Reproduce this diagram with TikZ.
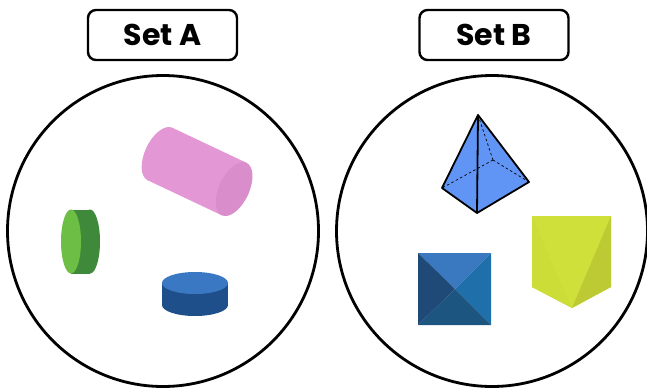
\documentclass[tikz,border=0pt]{standalone}
\usepackage{fontspec}
\setmainfont{Poppins}
\definecolor{pinkbody}{HTML}{E397D5}
\definecolor{pinkface}{HTML}{D98DCB}
\definecolor{greenlight}{HTML}{6DBE45}
\definecolor{greendark}{HTML}{3F8A3A}
\definecolor{bluetop}{HTML}{3B78C4}
\definecolor{blueside}{HTML}{1F4F8A}
\definecolor{pyrblue}{HTML}{6195F5}
\definecolor{sqtop}{HTML}{3A78BF}
\definecolor{sqright}{HTML}{1F6FAB}
\definecolor{sqbottom}{HTML}{1B5580}
\definecolor{sqleft}{HTML}{1F4A78}
\definecolor{prmain}{HTML}{CFE03A}
\definecolor{prleft}{HTML}{CCDD38}
\definecolor{prright}{HTML}{BDCA33}
\tikzset{
  labelbox/.style={draw=black, line width=2.4pt, rounded corners=8pt, minimum width=149pt, minimum height=50pt, inner sep=0pt, font=\fontsize{30}{33}\selectfont\bfseries},
  setcircle/.style={draw=black, line width=2.8pt, circle, minimum size=311pt, inner sep=0pt},
  pyredge/.style={draw=black, line width=1.8pt, line join=round},
  hiddenedge/.style={black, line width=0.7pt, dash pattern=on 2.5pt off 2.5pt}
}
\begin{document}
\begin{tikzpicture}[x=1pt, y=-1pt]
\useasboundingbox (0,0) rectangle (647,388);
% labels
\node[labelbox] (setA) at (162.5,35) {Set A};
\node[labelbox] (setB) at (494,35) {Set B};
% circles
\node[setcircle] (circA) at (163,231) {};
\node[setcircle] (circB) at (492,231) {};
% pink cylinder
\begin{scope}[shift={(160,154)}, rotate=-25.3]
  \fill[pinkbody] (0,0) ellipse [x radius=15, y radius=29];
  \fill[pinkbody] (0,-29) rectangle (82,29);
  \fill[pinkface] (82,0) ellipse [x radius=15, y radius=29];
\end{scope}
% green disk
\fill[greendark] (90,241.5) ellipse [x radius=10, y radius=32];
\fill[greendark] (71,209.5) rectangle (90,273.5);
\fill[greenlight] (71,241.5) ellipse [x radius=10, y radius=32];
% blue disk
\fill[blueside] (195,305) ellipse [x radius=33, y radius=11];
\fill[blueside] (162,283) rectangle (228,305);
\fill[bluetop] (195,283) ellipse [x radius=33, y radius=11];
% pyramid
\coordinate (apex) at (478,115);
\coordinate (pl) at (442,188);
\coordinate (pf) at (477,213);
\coordinate (pr) at (529,182);
\coordinate (pb) at (493,160);
\fill[pyrblue] (apex) -- (pl) -- (pf) -- (pr) -- cycle;
\draw[hiddenedge] (apex) -- (pb) (pb) -- (pl) (pb) -- (pr);
\draw[pyredge] (apex) -- (pl) -- (pf) -- (pr) -- cycle;
\draw[pyredge] (apex) -- (pf);
% square pyramid (top view)
\coordinate (sqc) at (455,289);
\fill[sqtop] (418,253) -- (491,253) -- (sqc) -- cycle;
\fill[sqright] (491,253) -- (491,325) -- (sqc) -- cycle;
\fill[sqbottom] (491,325) -- (418,325) -- (sqc) -- cycle;
\fill[sqleft] (418,325) -- (418,253) -- (sqc) -- cycle;
% yellow prism
\fill[prmain] (532,216) -- (611,216) -- (611,287) -- (572,308) -- (532,287) -- cycle;
\fill[prleft] (532,216) -- (532,287) -- (572,308) -- cycle;
\fill[prmain] (532,216) -- (611,216) -- (572,308) -- cycle;
\fill[prright] (611,216) -- (611,287) -- (572,308) -- cycle;
\end{tikzpicture}
\end{document}
